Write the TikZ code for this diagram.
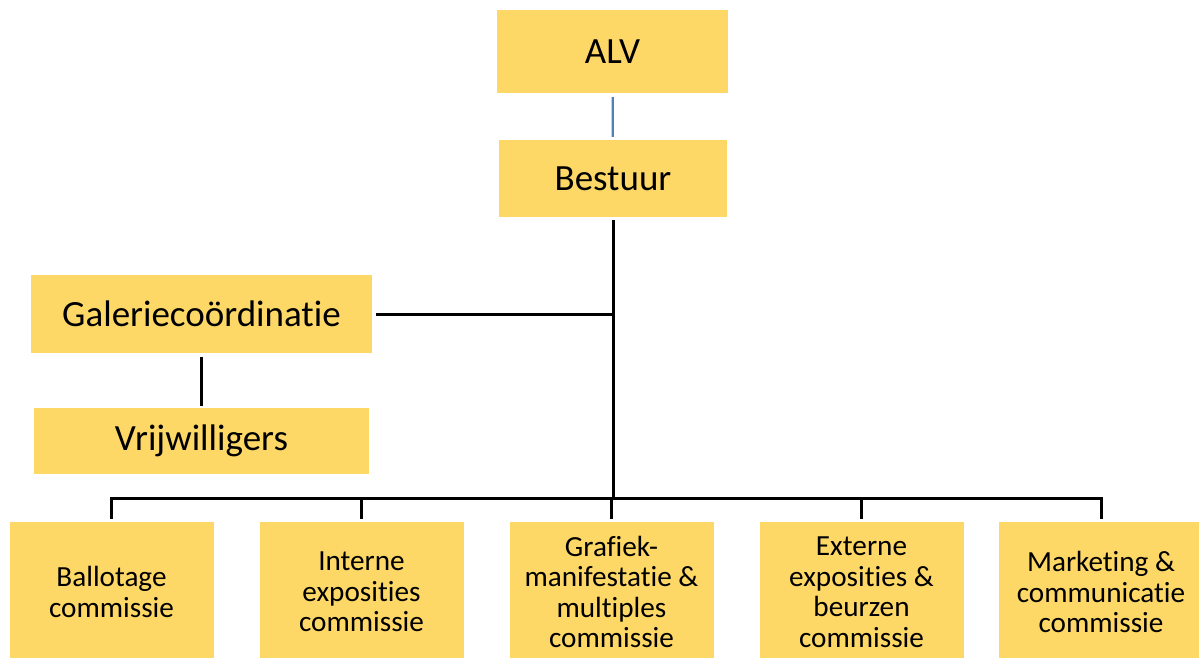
\documentclass[tikz,border=0pt]{standalone}
\usepackage{fontspec}
\setmainfont{Carlito}[Ligatures=NoCommon]
\definecolor{boxfill}{RGB}{254,216,102}
\definecolor{linkblue}{RGB}{79,129,189}
\tikzset{
  topbox/.style={fill=boxfill, draw=none, inner sep=0pt, align=center, font=\fontsize{37}{44}\selectfont},
  combox/.style={fill=boxfill, draw=none, inner sep=0pt, align=center, minimum width=204pt, minimum height=140pt, font=\fontsize{29.2}{30.5}\selectfont},
  conn/.style={line width=3pt, black},
  thinconn/.style={line width=2.2pt, black},
}
\begin{document}
\begin{tikzpicture}[x=1pt,y=-1pt]
\useasboundingbox (0,0) rectangle (1199,657);
\clip (0,0) rectangle (1199,657);
\node[topbox, minimum width=231pt, minimum height=83pt] (alv) at (612.5,51.5) {ALV};
\node[topbox, minimum width=228pt, minimum height=77pt] (bestuur) at (613,178.5) {Bestuur};
\node[topbox, minimum width=341pt, minimum height=78pt] (gal) at (201.5,314) {Galeriecoördinatie};
\node[topbox, minimum width=335pt, minimum height=66pt] (vrij) at (201.5,441) {Vrijwilligers};
\node[combox] (c1) at (111.5,592) {Ballotage\\commissie};
\node[combox] (c2) at (361.5,592) {Interne\\exposities\\commissie};
\node[combox] (c3) at (611.5,592) {Grafiek-\\manifestatie \&\\multiples\\commissie};
\node[combox] (c4) at (861.5,592) {Externe\\exposities \&\\beurzen\\commissie};
\node[combox] (c5) at (1101,592) {Marketing \&\\communicatie\\commissie};
\coordinate (bus) at (613,498);
\draw[line width=2.2pt, linkblue, shorten <=4pt, shorten >=3pt] (alv) -- (bestuur);
\draw[conn, shorten <=3pt] (bestuur.south) -- (bus);
\draw[conn, shorten <=4pt] (gal.east) -- (gal.east -| bestuur);
\draw[thinconn, shorten <=4pt, shorten >=2pt] (gal) -- (vrij);
\draw[conn, line cap=rect] (c1.north |- bus) -- (c5.north |- bus);
\foreach \c in {c1,c2,c3,c4,c5}{
  \draw[conn, shorten >=3pt] (\c.north |- bus) -- (\c.north);
}
\end{tikzpicture}
\end{document}
